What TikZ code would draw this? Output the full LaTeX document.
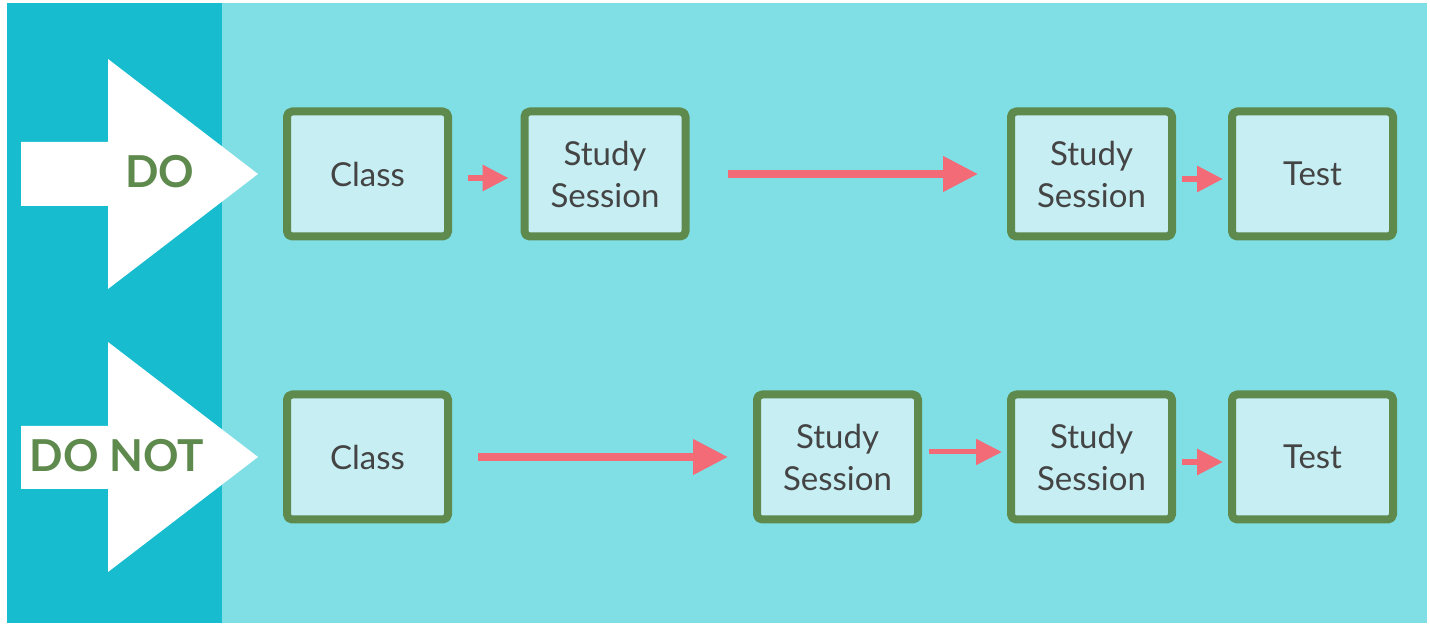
\documentclass[tikz,border=0pt]{standalone}
\usepackage{fontspec}
\setmainfont{Lato}
\usepackage{tikz}
\usetikzlibrary{arrows.meta}

\definecolor{darkteal}{HTML}{17BCCF}
\definecolor{lightteal}{HTML}{7FDFE5}
\definecolor{boxfill}{HTML}{C6EEF3}
\definecolor{boxgreen}{HTML}{5E8A4D}
\definecolor{arrowpink}{HTML}{F26B76}
\definecolor{textgrey}{HTML}{444444}

\begin{document}
\begin{tikzpicture}[x=0.5pt,y=-0.5pt,
  stepbox/.style={draw=boxgreen,fill=boxfill,line width=4pt,minimum width=80.5pt,minimum height=62.5pt,
    rounded corners=2.5pt,line join=round,
    text=textgrey,align=center,font=\fontsize{16.5}{21}\selectfont},
  label/.style={text=boxgreen,font=\fontsize{22}{26}\selectfont\bfseries},
  bigarrow/.style={draw=arrowpink,line width=3.75pt,-{Triangle[length=17.5pt,width=17pt]}},
  smallarrow/.style={draw=arrowpink,line width=3pt,-{Triangle[length=13pt,width=12.5pt]}}]
\useasboundingbox (0,0) rectangle (1430,625);
\fill[darkteal] (7,3) rectangle (222,623);
\fill[lightteal] (222,3) rectangle (1427,623);
\fill[white] (21,142) -- (108,142) -- (108,59) -- (258,174) -- (108,289) -- (108,206) -- (21,206) -- cycle;
\fill[white] (21,426) -- (108,426) -- (108,342) -- (258,457) -- (108,572) -- (108,489) -- (21,489) -- cycle;
\node[label] (do) at (160,172) {DO};
\node[label] (donot) at (117,456) {DO NOT};

\node[stepbox] (c1) at (367.5,174) {Class};
\node[stepbox] (s1) at (605,174) {Study\\Session};
\node[stepbox] (s2) at (1091.5,174) {Study\\Session};
\node[stepbox] (t1) at (1312.5,174) {Test};

\node[stepbox] (c2) at (367.5,457) {Class};
\node[stepbox] (s3) at (837.5,457) {Study\\Session};
\node[stepbox] (s4) at (1091.5,457) {Study\\Session};
\node[stepbox] (t2) at (1312.5,457) {Test};

\draw[smallarrow,shorten <=8pt,shorten >=6pt] ([yshift=-2pt]c1.east) -- ([yshift=-2pt]s1.west);
\draw[bigarrow,shorten <=19pt,shorten >=14.5pt] (s1.east) -- (s2.west);
\draw[smallarrow,shorten <=3pt,shorten >=2.5pt] ([yshift=-2.5pt]s2.east) -- ([yshift=-2.5pt]t1.west);

\draw[bigarrow,shorten <=13pt,shorten >=12.5pt] (c2.east) -- (s3.west);
\draw[smallarrow,line width=2.5pt,shorten <=3.5pt,shorten >=2.5pt] ([yshift=2.5pt]s3.east) -- ([yshift=2.5pt]s4.west);
\draw[smallarrow,shorten <=3pt,shorten >=2.5pt] ([yshift=-2.5pt]s4.east) -- ([yshift=-2.5pt]t2.west);
\end{tikzpicture}
\end{document}
